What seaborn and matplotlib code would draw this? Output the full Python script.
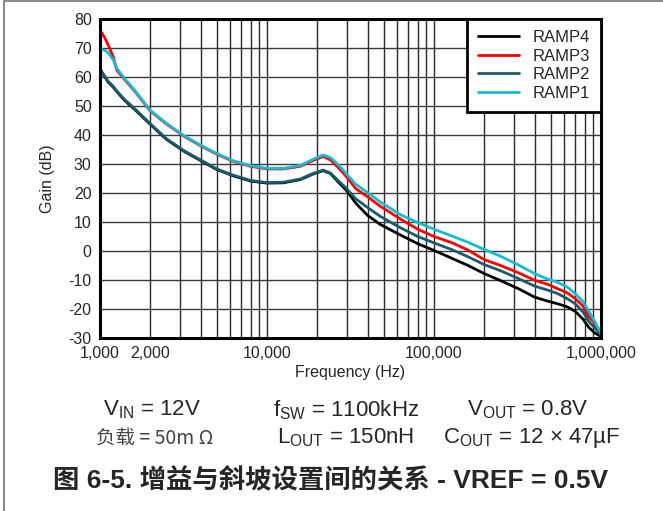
import numpy as np
import pandas as pd
import matplotlib
matplotlib.use("Agg")
import matplotlib.pyplot as plt
from matplotlib.ticker import FixedLocator, FuncFormatter, NullFormatter, LogLocator
from matplotlib.lines import Line2D
import seaborn as sns

# Data
freq = [1000, 1070, 1120, 1200, 1260, 1400, 1600, 2000, 2500, 3200, 4000, 5000,
        6300, 8000, 10000, 12500, 15800, 19000, 21700, 24000, 27000, 30000, 34000,
        40000, 47500, 63000, 80000, 100000, 130000, 160000, 200000, 250000, 320000,
        400000, 480000, 550000, 630000, 700000, 780000, 850000, 920000, 1000000]

ramp1 = [69.6, 69.2, 68.3, 66.0, 63.0, 59.5, 55.7, 48.5, 44.0, 39.7, 36.5, 33.6,
         31.1, 29.4, 28.5, 28.5, 29.5, 31.7, 33.1, 32.2, 29.5, 26.5, 23.0,
         20.2, 17.0, 12.5, 9.8, 7.5, 5.0, 3.0, 0.5, -1.8, -4.8,
         -7.8, -9.7, -10.8, -12.5, -14.7, -17.5, -21.0, -24.5, -28.5]

ramp3 = [76.2, 73.4, 71.0, 67.0, 62.4, 59.2, 55.4, 48.3, 43.8, 39.5, 36.3, 33.4,
         30.9, 29.2, 28.3, 28.3, 29.2, 31.3, 32.6, 31.4, 28.5, 25.5, 21.5,
         18.7, 15.5, 11.0, 7.5, 5.0, 2.7, 0.3, -3.0, -5.0, -7.5,
         -10.1, -11.5, -13.0, -14.5, -16.4, -19.0, -22.8, -25.0, -28.8]

ramp2 = [62.4, 60.2, 58.5, 56.8, 55.2, 52.3, 49.3, 43.9, 38.7, 34.5, 31.4, 28.3,
         26.1, 24.3, 23.6, 23.7, 24.8, 26.8, 27.9, 26.9, 24.0, 21.5, 18.0,
         15.0, 12.0, 8.0, 5.0, 2.8, 0.3, -2.0, -4.7, -6.8, -9.5,
         -12.1, -13.5, -14.7, -16.5, -18.2, -21.0, -24.5, -26.5, -29.0]

ramp4 = [62.8, 60.0, 58.2, 56.5, 55.0, 52.0, 49.0, 43.7, 38.5, 34.3, 31.2, 28.1,
         25.9, 24.1, 23.4, 23.5, 24.6, 26.6, 27.7, 26.7, 23.5, 20.8, 16.5,
         12.3, 9.2, 5.5, 2.5, 0.2, -2.7, -5.0, -7.8, -10.2, -13.0,
         -15.9, -17.3, -18.2, -19.3, -20.8, -23.5, -26.5, -28.3, -29.5]

series_names = ["RAMP4", "RAMP3", "RAMP2", "RAMP1"]
series_colors = ["#000000", "#ff0000", "#1b5b6c", "#16bcd2"]
x_ticks = [1000, 2000, 10000, 100000, 1000000]
y_ticks = list(range(-30, 81, 10))

df = pd.concat([
    pd.DataFrame({"freq": freq, "gain": ramp4, "series": "RAMP4"}),
    pd.DataFrame({"freq": freq, "gain": ramp3, "series": "RAMP3"}),
    pd.DataFrame({"freq": freq, "gain": ramp2, "series": "RAMP2"}),
    pd.DataFrame({"freq": freq, "gain": ramp1, "series": "RAMP1"}),
])

sns.set_style("white")
plt.rcParams["font.family"] = ["Liberation Sans", "Noto Sans CJK SC", "DejaVu Sans"]
plt.rcParams["mathtext.fontset"] = "custom"
plt.rcParams["mathtext.rm"] = "Liberation Sans"
plt.rcParams["mathtext.it"] = "Liberation Sans"
plt.rcParams["axes.unicode_minus"] = False

fig = plt.figure(figsize=(6.63, 5.11), dpi=100)
ax = fig.add_axes([0.1508, 0.3386, 0.7557, 0.6242])

# RAMP4 first, RAMP1 last (on top), as in the reference
sns.lineplot(data=df, x="freq", y="gain", hue="series", hue_order=series_names,
             palette=dict(zip(series_names, series_colors)), linewidth=2.0,
             ax=ax, legend=False, sort=False)

ax.set_xscale("log")
ax.set_xlim(1000, 1000000)
ax.set_ylim(-30, 80)
ax.xaxis.set_major_locator(FixedLocator(x_ticks))
ax.xaxis.set_major_formatter(FuncFormatter(lambda v, p: f"{int(v):,}"))
ax.xaxis.set_minor_locator(LogLocator(base=10, subs=np.arange(2, 10)))
ax.xaxis.set_minor_formatter(NullFormatter())
ax.set_yticks(y_ticks)

ax.grid(True, which="both", axis="x", color="#2a2a2a", linewidth=1.0)
ax.grid(True, which="major", axis="y", color="#3a3a3a", linewidth=1.0)
ax.tick_params(axis="both", which="both", length=0, labelsize=11.5, pad=6)
for s in ax.spines.values():
    s.set_color("black")
    s.set_linewidth(2.2)

ax.set_xlabel("Frequency (Hz)", fontsize=11.5, labelpad=3)
ax.set_ylabel("Gain (dB)", fontsize=11.5, labelpad=10)

handles = [Line2D([0], [0], color=c, lw=2.0) for c in series_colors]
leg = ax.legend(handles, series_names, loc="upper right", fontsize=12,
                frameon=True, fancybox=False, borderaxespad=0, handlelength=2.5,
                handletextpad=0.8, labelspacing=0.22, borderpad=0.65)
leg.get_frame().set_edgecolor("black")
leg.get_frame().set_linewidth(2.0)
leg.get_frame().set_alpha(1)

# condition text
fs = 16
fig.text(152 / 663, 1 - 410 / 511, r"$\mathrm{V_{IN}}$ = 12V", ha="center", va="center", fontsize=fs)
fig.text(346 / 663, 1 - 410 / 511, r"$\mathrm{f_{SW}}$ = 1100kHz", ha="center", va="center", fontsize=fs)
fig.text(528 / 663, 1 - 410 / 511, r"$\mathrm{V_{OUT}}$ = 0.8V", ha="center", va="center", fontsize=fs)
fig.text(155 / 663, 1 - 438 / 511, "负载 = 50m Ω", ha="center", va="center", fontsize=fs - 2,
         color="#444444", family=["Noto Sans CJK SC", "DejaVu Sans"])
fig.text(346 / 663, 1 - 438 / 511, r"$\mathrm{L_{OUT}}$ = 150nH", ha="center", va="center", fontsize=fs)
fig.text(532 / 663, 1 - 438 / 511, r"$\mathrm{C_{OUT}}$ = 12 × 47µF", ha="center", va="center", fontsize=fs)

fig.text(331 / 663, 1 - 481 / 511, "图 6-5. 增益与斜坡设置间的关系 - VREF = 0.5V", ha="center", va="center",
         fontsize=19, fontweight="bold", family=["Liberation Sans", "Noto Sans CJK SC", "DejaVu Sans"])

# frame lines on top and left of the figure
fig.add_artist(Line2D([4 / 663, 4 / 663], [0, 1 - 1.5 / 511], transform=fig.transFigure,
                      color="#8a8a8a", lw=1.5))
fig.add_artist(Line2D([4 / 663, 1], [1 - 1.5 / 511, 1 - 1.5 / 511], transform=fig.transFigure,
                      color="#8a8a8a", lw=1.5))

fig.savefig("out.png", dpi=100)
